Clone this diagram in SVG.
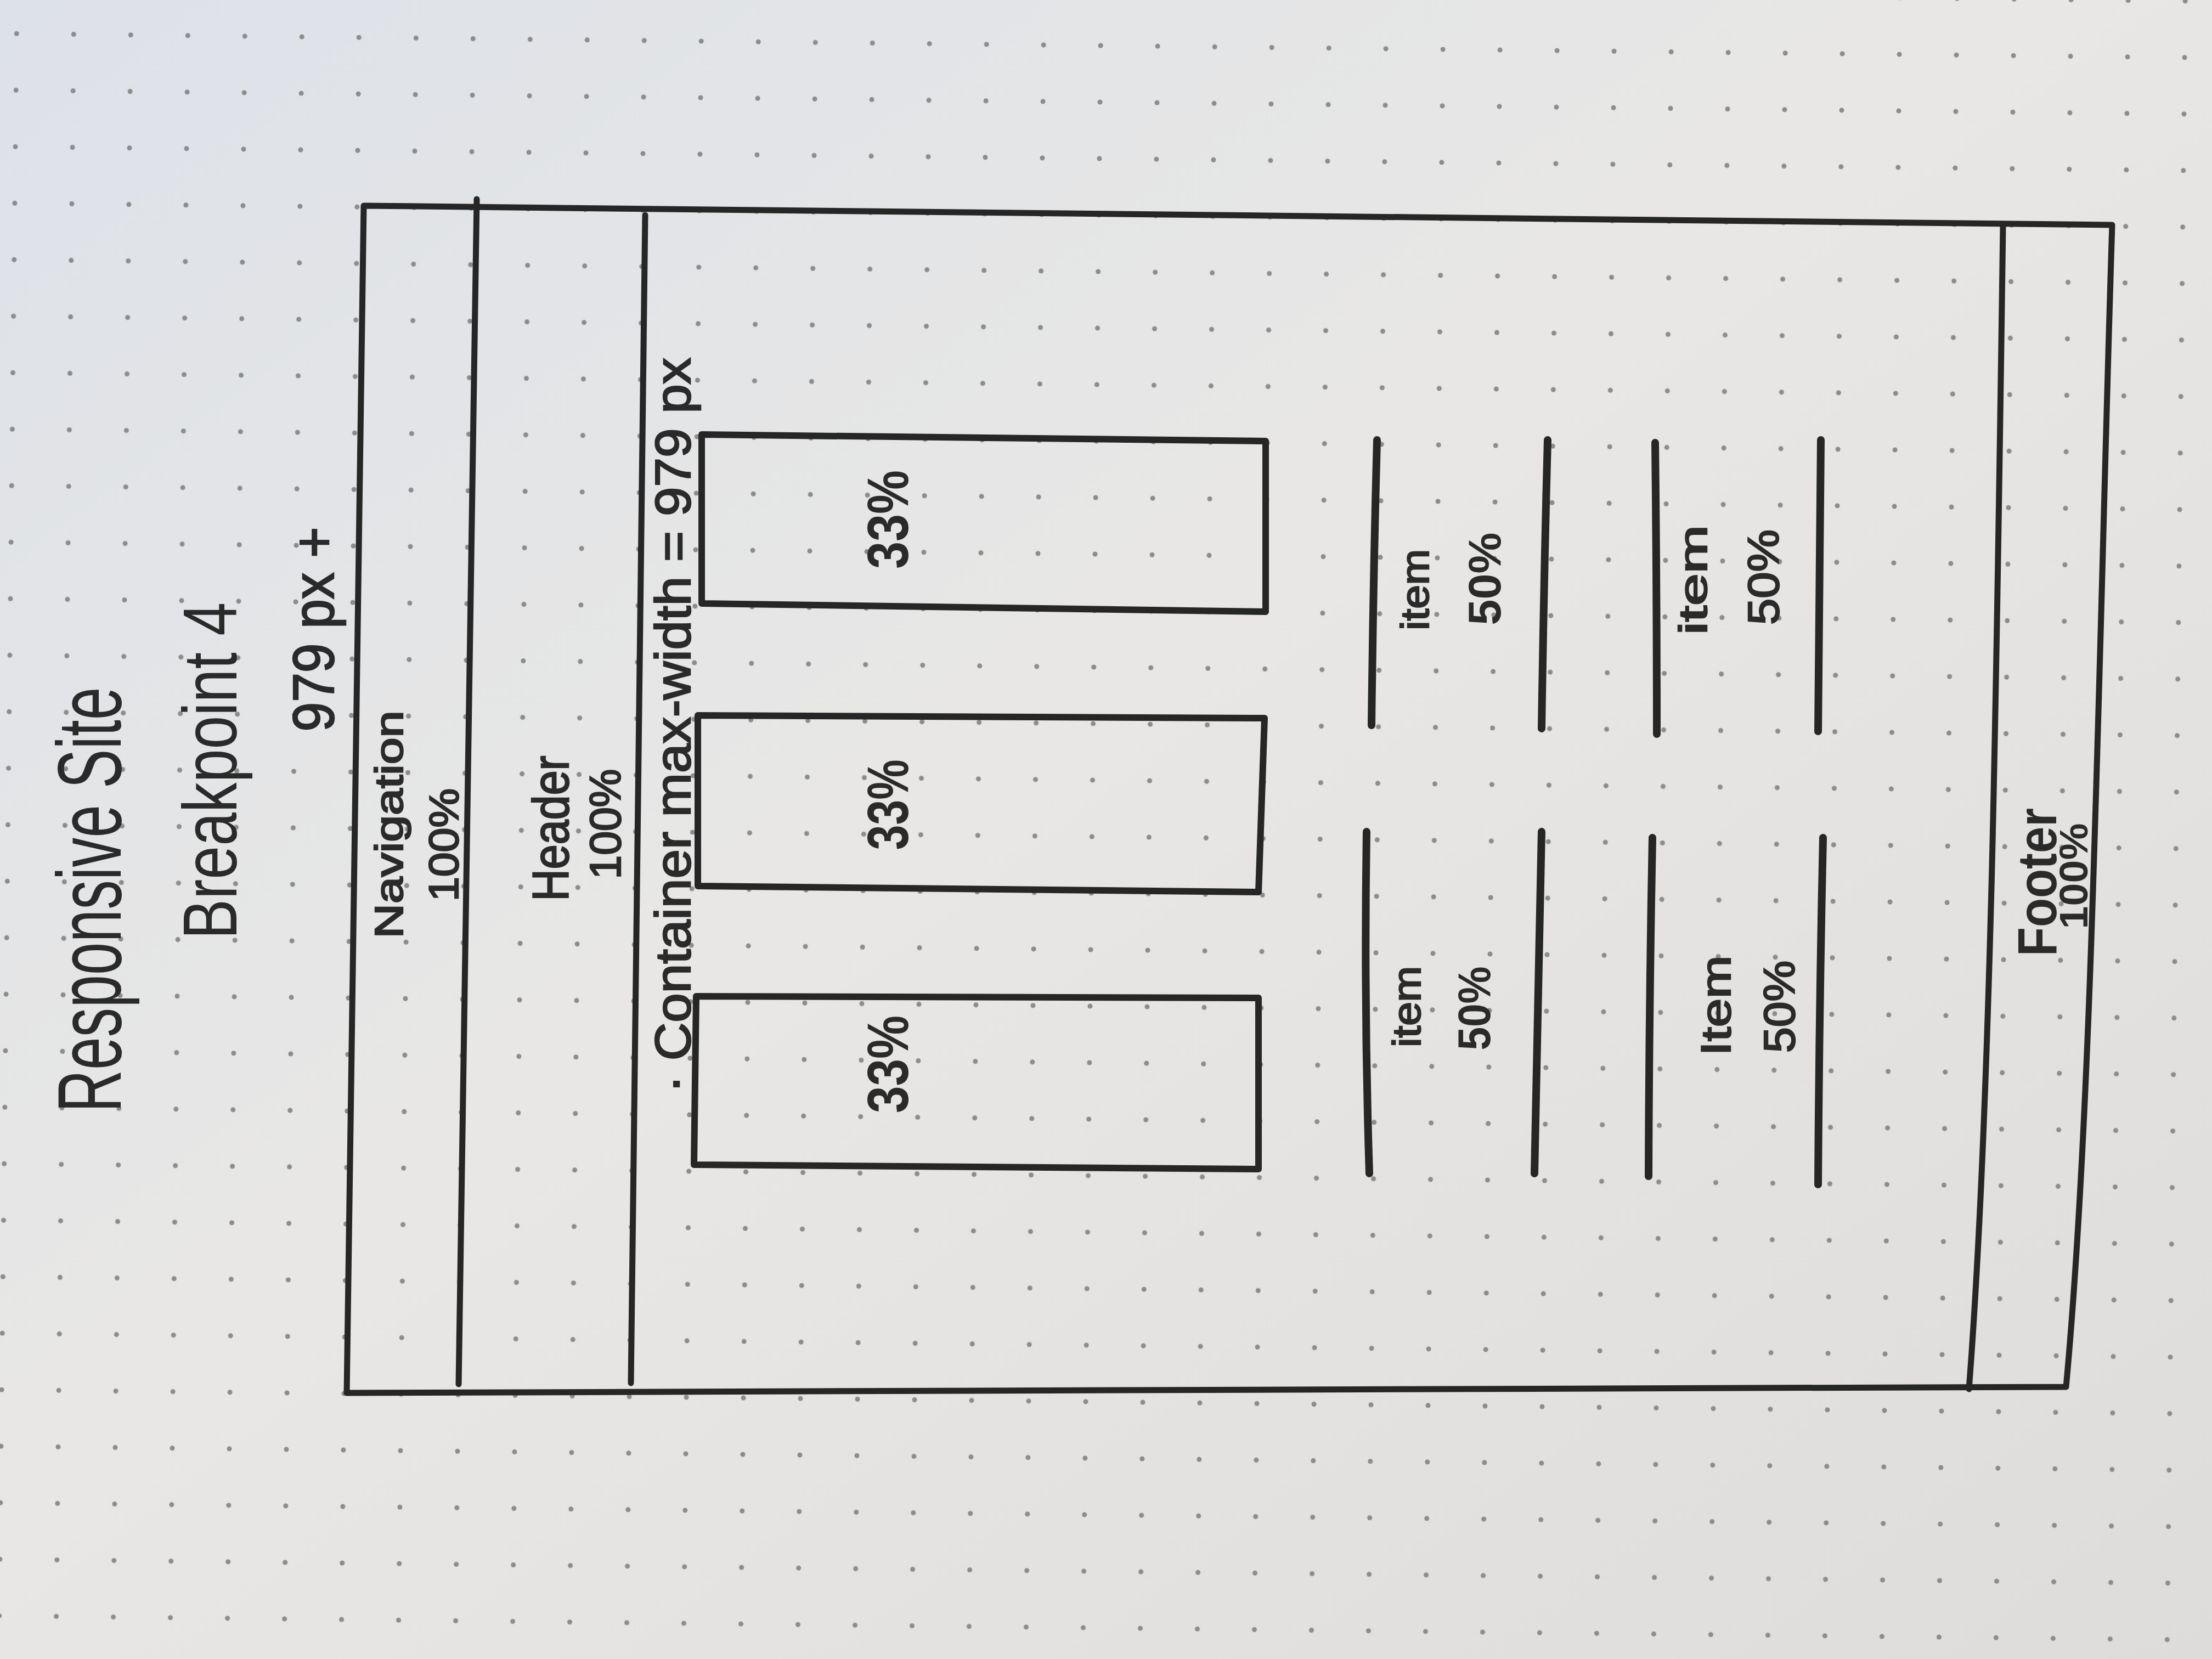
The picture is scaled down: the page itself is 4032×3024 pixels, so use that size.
<svg xmlns="http://www.w3.org/2000/svg" width="4032" height="3024" viewBox="0 0 4032 3024">
  <style>
    .ink { fill: none; stroke: #262626; stroke-linecap: round; stroke-linejoin: round; }
    .frame { stroke-width: 11; }
    .box { stroke-width: 12; }
    .item { stroke-width: 14; }
    .hand { font-family: "Liberation Sans", Arial, sans-serif; fill: #2a2a2a; text-anchor: middle; }
    .heavy { stroke: #2a2a2a; stroke-width: 2.5; }
    .bold { font-weight: bold; }
  </style>
  <defs>
    <linearGradient id="paper" x1="0" y1="0" x2="1" y2="1">
      <stop offset="0" stop-color="#dde1e8"/>
      <stop offset="0.45" stop-color="#e8e7e5"/>
      <stop offset="1" stop-color="#dddcda"/>
    </linearGradient>
    <pattern id="dots" width="104" height="103" patternUnits="userSpaceOnUse" x="31" y="61" patternTransform="rotate(0.63)">
      <circle cx="0" cy="0" r="4.5" fill="#8c8c8c"/>
      <circle cx="104" cy="0" r="4.5" fill="#8c8c8c"/>
      <circle cx="0" cy="103" r="4.5" fill="#8c8c8c"/>
      <circle cx="104" cy="103" r="4.5" fill="#8c8c8c"/>
    </pattern>
  </defs>

  <rect width="4032" height="3024" fill="url(#paper)"/>
  <rect width="4032" height="3024" fill="url(#dots)"/>

  <g id="title">
    <text class="hand" font-size="165" textLength="775" lengthAdjust="spacingAndGlyphs" transform="translate(220,1640) rotate(-90)">Responsive Site</text>
    <text class="hand" font-size="140" textLength="614" lengthAdjust="spacingAndGlyphs" transform="translate(431,1405) rotate(-90)">Breakpoint 4</text>
    <text class="hand heavy" font-size="105" textLength="373" lengthAdjust="spacingAndGlyphs" transform="translate(608,1147) rotate(-90)">979 px +</text>
  </g>

  <g id="page-frame">
    <path class="ink frame" d="M663,375 L3850,410 C3825,1200 3815,2000 3766,2528 L632,2539 Z"/>
  </g>

  <g id="navigation">
    <path class="ink frame" d="M869,363 L836,2523"/>
    <text class="hand heavy" font-size="72" textLength="415" lengthAdjust="spacingAndGlyphs" transform="translate(734,1503) rotate(-90)">Navigation</text>
    <text class="hand heavy" font-size="76" textLength="206" lengthAdjust="spacingAndGlyphs" transform="translate(835,1540) rotate(-90)">100%</text>
  </g>

  <g id="header">
    <path class="ink frame" d="M1176,392 L1150,2521"/>
    <text class="hand heavy" font-size="92" textLength="265" lengthAdjust="spacingAndGlyphs" transform="translate(1036,1510) rotate(-90)">Header</text>
    <text class="hand heavy" font-size="80" textLength="201" lengthAdjust="spacingAndGlyphs" transform="translate(1131,1502) rotate(-90)">100%</text>
  </g>

  <g id="container">
    <text class="hand heavy" font-size="90" textLength="1340" lengthAdjust="spacingAndGlyphs" transform="translate(1258,1322) rotate(-90)">· Container  max-width = 979 px</text>
  </g>

  <g id="box-1">
    <path class="ink box" d="M1279,792 L2307,804 L2307,1115 L1279,1100 Z"/>
    <text class="hand bold" font-size="105" textLength="180" lengthAdjust="spacingAndGlyphs" transform="translate(1655,947) rotate(-90)">33%</text>
  </g>
  <g id="box-2">
    <path class="ink box" d="M1272,1304 L2305,1309 L2294,1626 L1272,1615 Z"/>
    <text class="hand bold" font-size="105" textLength="165" lengthAdjust="spacingAndGlyphs" transform="translate(1655,1467) rotate(-90)">33%</text>
  </g>
  <g id="box-3">
    <path class="ink box" d="M1269,1816 L2294,1819 L2294,2131 L1265,2123 Z"/>
    <text class="hand bold" font-size="105" textLength="178" lengthAdjust="spacingAndGlyphs" transform="translate(1655,1940) rotate(-90)">33%</text>
  </g>

  <g id="item-1">
    <path class="ink item" d="M2510,802 Q2503,1060 2500,1322"/>
    <path class="ink item" d="M2821,802 Q2814,1065 2810,1328"/>
    <text class="hand heavy" font-size="72" textLength="148" lengthAdjust="spacingAndGlyphs" transform="translate(2604,1075) rotate(-90)">item</text>
    <text class="hand bold" font-size="84" textLength="169" lengthAdjust="spacingAndGlyphs" transform="translate(2735,1055) rotate(-90)">50%</text>
  </g>
  <g id="item-2">
    <path class="ink item" d="M3017,807 Q3020,1070 3020,1338"/>
    <path class="ink item" d="M3319,802 Q3317,1065 3314,1333"/>
    <text class="hand heavy" font-size="72" textLength="200" lengthAdjust="spacingAndGlyphs" transform="translate(3111,1057) rotate(-90)">item</text>
    <text class="hand heavy" font-size="80" textLength="174" lengthAdjust="spacingAndGlyphs" transform="translate(3242,1052) rotate(-90)">50%</text>
  </g>
  <g id="item-3">
    <path class="ink item" d="M2491,1516 Q2486,1830 2496,2139"/>
    <path class="ink item" d="M2810,1516 Q2803,1830 2797,2139"/>
    <text class="hand heavy" font-size="72" textLength="148" lengthAdjust="spacingAndGlyphs" transform="translate(2589,1835) rotate(-90)">item</text>
    <text class="hand bold" font-size="84" textLength="153" lengthAdjust="spacingAndGlyphs" transform="translate(2716,1838) rotate(-90)">50%</text>
  </g>
  <g id="item-4">
    <path class="ink item" d="M3012,1527 Q3006,1835 3005,2144"/>
    <path class="ink item" d="M3323,1527 Q3316,1840 3314,2159"/>
    <text class="hand heavy" font-size="76" textLength="183" lengthAdjust="spacingAndGlyphs" transform="translate(3154,1833) rotate(-90)">Item</text>
    <text class="hand heavy" font-size="80" textLength="168" lengthAdjust="spacingAndGlyphs" transform="translate(3271,1835) rotate(-90)">50%</text>
  </g>

  <g id="footer">
    <path class="ink frame" d="M3651,412 C3640,1200 3630,2000 3589,2532"/>
    <text class="hand bold" font-size="100" textLength="270" lengthAdjust="spacingAndGlyphs" transform="translate(3748,1608) rotate(-90)">Footer</text>
    <text class="hand bold" font-size="72" textLength="193" lengthAdjust="spacingAndGlyphs" transform="translate(3805,1597) rotate(-90)">100%</text>
  </g>

  <g id="connectors"/>
</svg>
